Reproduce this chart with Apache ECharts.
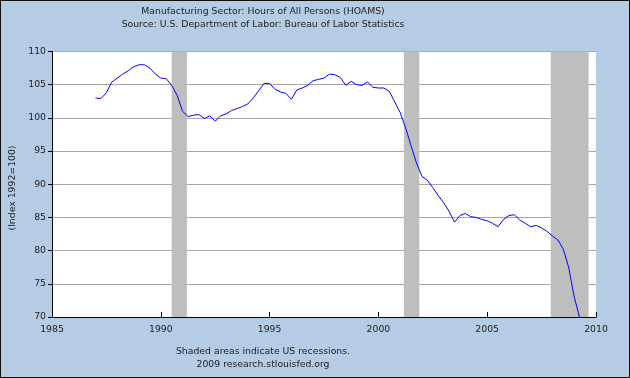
<!DOCTYPE html>
<html>
<head>
<meta charset="utf-8">
<script src="https://cdn.jsdelivr.net/npm/echarts@6/dist/echarts.min.js"></script>
<style>
  html, body { margin: 0; padding: 0; }
  #chart { width: 630px; height: 378px; }
</style>
</head>
<body>
<div id="chart"></div>
<script>
// HOAMS quarterly index (1992=100), first quarter 1987
var startYear = 1987;
var hoams = [
    103.0, 102.9, 103.8, 105.4,   // 1987
    106.0, 106.6, 107.1, 107.7,   // 1988
    108.0, 108.0, 107.5, 106.6,   // 1989
    106.0, 105.9, 104.9, 103.4,   // 1990
    101.0, 100.2, 100.4, 100.5,   // 1991
    99.9, 100.3, 99.5, 100.3,     // 1992
    100.6, 101.1, 101.4, 101.7,   // 1993
    102.1, 103.0, 104.1, 105.2,   // 1994
    105.2, 104.3, 103.9, 103.7,   // 1995
    102.8, 104.2, 104.5, 104.9,   // 1996
    105.6, 105.8, 106.0, 106.6,   // 1997
    106.5, 106.1, 104.9, 105.5,   // 1998
    105.0, 104.9, 105.4, 104.6,   // 1999
    104.5, 104.5, 104.0, 102.4,   // 2000
    100.8, 98.5, 95.8, 93.2,      // 2001
    91.2, 90.6, 89.5, 88.3,       // 2002
    87.2, 85.9, 84.3, 85.3,       // 2003
    85.6, 85.1, 85.0, 84.7,       // 2004
    84.5, 84.1, 83.6, 84.7,       // 2005
    85.3, 85.4, 84.6, 84.1,       // 2006
    83.6, 83.8, 83.4, 82.9,       // 2007
    82.2, 81.6, 80.2, 77.4,       // 2008
    73.0, 69.9                    // 2009
];
// recession periods (decimal years)
var recessions = [
    [1990.5, 1991.2],
    [2001.17, 2001.88],
    [2007.92, 2009.66]
];
var xTicks = [1985, 1990, 1995, 2000, 2005, 2010];
var yTicks = [70, 75, 80, 85, 90, 95, 100, 105, 110];

var font = 'DejaVu Sans';
var seriesData = hoams.map(function (v, i) {
    return [startYear + i / 4, v];
});

var myChart = echarts.init(document.getElementById('chart'));
myChart.setOption({
    backgroundColor: '#B4CCE4',
    animation: false,
    grid: {
        left: 52,
        right: 34,
        top: 51.5,
        bottom: 61,
        show: true,
        backgroundColor: '#fff',
        borderWidth: 0
    },
    graphic: [
        {
            type: 'rect',
            shape: { x: 0.5, y: 0.5, width: 629, height: 377 },
            style: { fill: 'none', stroke: '#111', lineWidth: 1 },
            z: 100
        },
        {
            type: 'text', x: 263, y: 11.5,
            style: { text: 'Manufacturing Sector: Hours of All Persons (HOAMS)', font: '9.3px ' + font, fill: '#222', align: 'center', verticalAlign: 'middle' }
        },
        {
            type: 'text', x: 263, y: 25,
            style: { text: 'Source: U.S. Department of Labor: Bureau of Labor Statistics', font: '9.3px ' + font, fill: '#222', align: 'center', verticalAlign: 'middle' }
        },
        {
            type: 'text', x: 263, y: 351.5,
            style: { text: 'Shaded areas indicate US recessions.', font: '9.3px ' + font, fill: '#222', align: 'center', verticalAlign: 'middle' }
        },
        {
            type: 'text', x: 263, y: 365,
            style: { text: '2009 research.stlouisfed.org', font: '9.3px ' + font, fill: '#222', align: 'center', verticalAlign: 'middle' }
        },
        {
            type: 'text', x: 12.5, y: 188, rotation: Math.PI / 2,
            style: { text: '(Index 1992=100)', font: '9.3px ' + font, fill: '#222', align: 'center', verticalAlign: 'middle' }
        }
    ],
    xAxis: {
        type: 'value',
        min: xTicks[0],
        max: xTicks[xTicks.length - 1],
        interval: 5,
        axisLine: { lineStyle: { color: '#000', width: 1 } },
        axisTick: { inside: true, length: 5, lineStyle: { color: '#000' } },
        axisLabel: {
            margin: 8,
            color: '#222',
            fontFamily: font,
            fontSize: 9.3,
            showMinLabel: true,
            showMaxLabel: true,
            formatter: function (v) { return xTicks.indexOf(v) >= 0 ? String(v) : ''; }
        },
        splitLine: { show: false }
    },
    yAxis: {
        type: 'value',
        min: yTicks[0],
        max: yTicks[yTicks.length - 1],
        interval: 5,
        axisLine: { show: true, lineStyle: { color: '#000', width: 1 } },
        axisTick: { show: true, length: 4, lineStyle: { color: '#000' } },
        axisLabel: {
            margin: 6,
            color: '#222',
            fontFamily: font,
            fontSize: 9.3,
            showMinLabel: true,
            showMaxLabel: true
        },
        splitLine: { show: true, lineStyle: { color: '#A8A8A8', width: 1 } }
    },
    series: [
        {
            name: 'HOAMS',
            type: 'line',
            data: seriesData,
            showSymbol: false,
            clip: true,
            lineStyle: { color: '#0000FF', width: 1 },
            markArea: {
                silent: true,
                itemStyle: { color: '#BEBEBE', opacity: 1 },
                data: recessions.map(function (r) {
                    return [{ xAxis: r[0] }, { xAxis: r[1] }];
                })
            }
        }
    ]
});
</script>
</body>
</html>
